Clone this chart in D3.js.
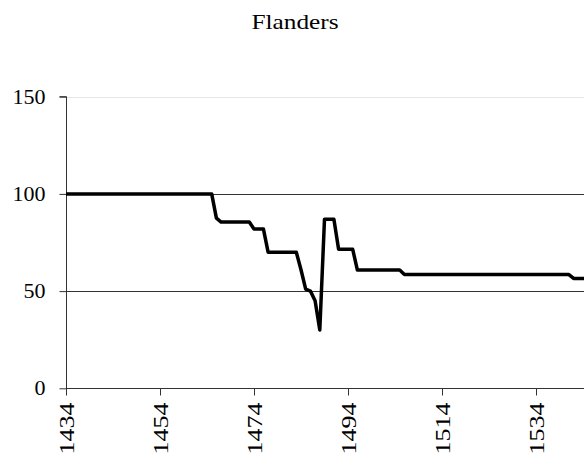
<!DOCTYPE html>
<html>
<head>
<meta charset="utf-8">
<script src="https://cdn.jsdelivr.net/npm/d3@7"></script>
<style>
  html, body { margin: 0; padding: 0; background: #fff; }
  svg { display: block; }
</style>
</head>
<body>
<svg id="chart" width="584" height="461"></svg>
<script>
// ---- data ----
const title = "Flanders";
const years = [];
for (let y = 1434; y <= 1545; y++) years.push(y);
// index values
const flat100Until = 1465;
const valuesFrom1466 = [
  87.5, 85.5, 85.5, 85.5, 85.5, 85.5, 85.5, 85.5, // 1466-1473
  82, 82, 82,                                     // 1474-1476
  70, 70, 70, 70, 70, 70, 70,                     // 1477-1483
  61, 51, 50, 45, 30,                             // 1484-1488
  87, 87, 87,                                     // 1489-1491
  71.5, 71.5, 71.5, 71.5,                         // 1492-1495
  60.8, 60.8, 60.8, 60.8, 60.8, 60.8, 60.8, 60.8, 60.8, 60.8, // 1496-1505
  58.5, 58.5, 58.5, 58.5, 58.5, 58.5, 58.5, 58.5, 58.5, 58.5, // 1506-1515
  58.5, 58.5, 58.5, 58.5, 58.5, 58.5, 58.5, 58.5, 58.5, 58.5, // 1516-1525
  58.5, 58.5, 58.5, 58.5, 58.5, 58.5, 58.5, 58.5, 58.5, 58.5, // 1526-1535
  58.5, 58.5, 58.5, 58.5, 58.5, 58.5,                         // 1536-1541
  56.5, 56.5, 56.5, 56.5                                      // 1542-1545
];
const values = years.map(y => y <= flat100Until ? 100 : valuesFrom1466[y - 1466]);
const yTicks = [0, 50, 100, 150];
const xTickYears = [1434, 1454, 1474, 1494, 1514, 1534];

const FONT = "'Liberation Serif', 'Times New Roman', Times, serif";

// ---- layout ----
const svg = d3.select("#chart");
const x0 = 66, yBottom = 388.3, yTop = 96.7;
const x = d3.scaleLinear().domain([1434, 1544]).range([x0, x0 + 4.7 * 110]);
const y = d3.scaleLinear().domain([0, 150]).range([yBottom, yTop]);

// title
svg.append("text")
  .attr("transform", "translate(295,29.3) scale(1.15,1)")
  .attr("text-anchor", "middle")
  .style("font-family", FONT)
  .style("font-size", "22px")
  .attr("fill", "#000")
  .text(title);

// gridlines
svg.append("g").selectAll("line").data(yTicks.filter(d => d > 0)).join("line")
  .attr("x1", x0).attr("x2", 584)
  .attr("y1", d => Math.round(y(d)) + 0.5).attr("y2", d => Math.round(y(d)) + 0.5)
  .attr("stroke", d => d === 150 ? "#e6e6e6" : "#333")
  .attr("stroke-width", 1);

// y axis
const yAxis = d3.axisLeft(y).tickValues(yTicks).tickSize(7).tickPadding(14).tickFormat(d3.format("d"));
const gy = svg.append("g").attr("transform", `translate(${x0 + 0.5},0)`).call(yAxis)
  .attr("font-family", FONT);
gy.select(".domain").attr("stroke", "#333").attr("d", `M-7,${y(150)}H0V${y(0)}`);
gy.selectAll(".tick line").attr("stroke", "#333");
gy.selectAll(".tick text").style("font-size", "22px").attr("dy", "0.3em")
  .style("font-family", FONT).attr("fill", "#000");

// x axis
const xAxis = d3.axisBottom(x).tickValues(xTickYears).tickSize(7).tickFormat(d3.format("d"));
const gx = svg.append("g").attr("transform", `translate(0,${Math.round(yBottom) + 0.5})`).call(xAxis)
  .attr("font-family", FONT);
gx.select(".domain").attr("stroke", "#333").attr("d", `M${x0},0H584`);
gx.selectAll(".tick line").attr("stroke", "#333");
gx.selectAll(".tick text")
  .style("font-size", "22px")
  .style("font-family", FONT)
  .attr("fill", "#000")
  .attr("text-anchor", "end")
  .attr("y", 0).attr("dy", "0.35em")
  .attr("transform", "translate(0,14) rotate(-90) scale(1.18,1)");

// line
const line = d3.line().x((d, i) => x(years[i])).y(d => y(d)).curve(d3.curveLinear);
svg.append("path").datum(values)
  .attr("d", line)
  .attr("fill", "none")
  .attr("stroke", "#000")
  .attr("stroke-width", 3.5)
  .attr("stroke-linejoin", "round");
</script>
</body>
</html>
